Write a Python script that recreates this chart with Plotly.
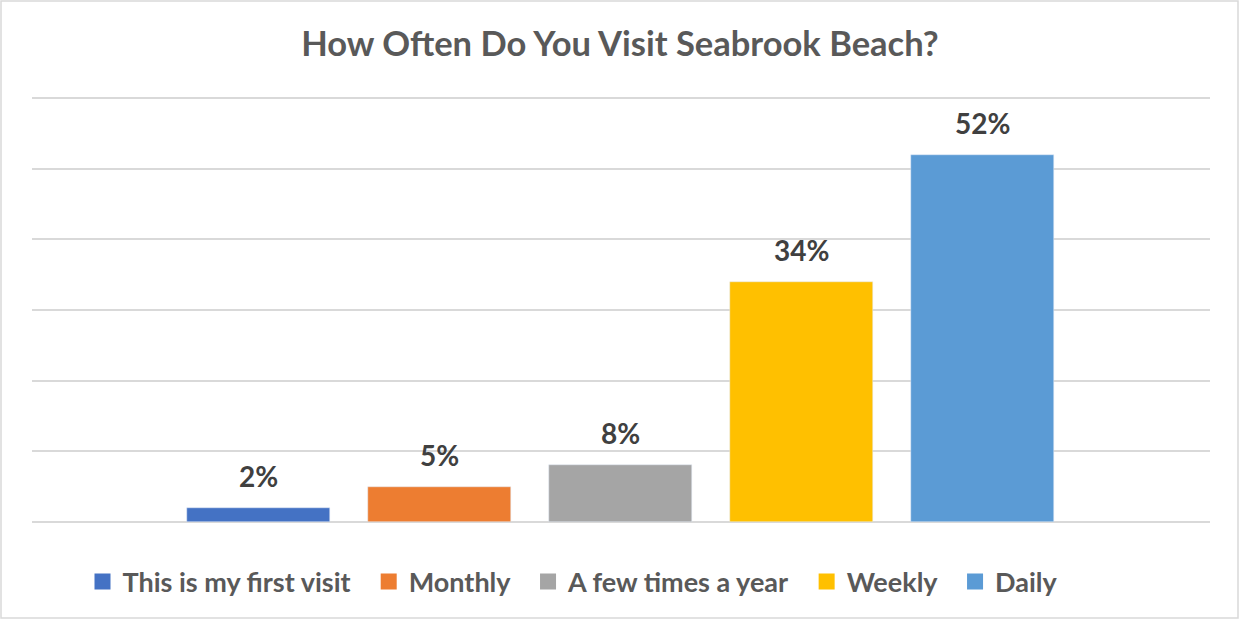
import plotly.graph_objects as go

series = ["This is my first visit", "Monthly", "A few times a year", "Weekly", "Daily"]
values = [2, 5, 8, 34, 52]
colors = ["#4472C4", "#ED7D31", "#A5A5A5", "#FFC000", "#5B9BD5"]
y_ticks = [0, 10, 20, 30, 40, 50, 60]

FONT = "Lato"
W, H = 1240, 619
Y_MAX = 61
# pixel layout: y=0 at 522px, y=60 at 98px
px_per_unit = (522 - 98) / 60
L, R, B = 32, 30, 97
ph = px_per_unit * Y_MAX
T = H - B - ph
pw = W - L - R

fig = go.Figure()
PAD = "\u00a0\u00a0"
for i, (name, v, c) in enumerate(zip(series, values, colors)):
    fig.add_trace(go.Bar(x=[i], y=[v], name=name, marker_color=c, width=0.79,
                         hoverinfo="name+y", showlegend=False))
    fig.add_trace(go.Scatter(x=[None], y=[None], mode="markers", name=name + (PAD if i < len(series) - 1 else ""),
                             marker=dict(symbol="square", size=17, color=c), hoverinfo="skip"))
    fig.add_annotation(x=i, y=v, text=f"{v}%", showarrow=False, yanchor="middle",
                       yshift=32, font=dict(family=FONT, size=28, color="#404040", weight="bold"))

fig.add_shape(type="rect", xref="paper", yref="paper",
              x0=(1 - L) / pw, x1=(W - 2 - L) / pw,
              y0=-(B - 1) / ph, y1=1 + (T - 1) / ph,
              line=dict(color="#D9D9D9", width=1.5), fillcolor="rgba(0,0,0,0)", layer="below")

fig.update_layout(
    width=W, height=H,
    margin=dict(l=L, r=R, t=T, b=B),
    paper_bgcolor="white", plot_bgcolor="white",
    title=dict(text="How Often Do You Visit Seabrook Beach?", x=0.5, xanchor="center",
               y=1 - 44 / H, yanchor="middle",
               font=dict(family=FONT, size=34.5, color="#595959", weight="bold")),
    xaxis=dict(range=[-1.2514, 5.257], showticklabels=False, showgrid=False,
               zeroline=False, fixedrange=True),
    yaxis=dict(range=[0, Y_MAX], tickvals=y_ticks, showticklabels=False, showgrid=True,
               gridcolor="#D9D9D9", gridwidth=1.5, zeroline=True, zerolinecolor="#D9D9D9",
               zerolinewidth=1.5),
    legend=dict(orientation="h", x=0.5 - 48 / pw, xanchor="center", y=-(582 - 522) / ph, yanchor="middle",
                font=dict(family=FONT, size=27, color="#595959", weight="bold"),
                itemsizing="trace", traceorder="normal"),
    bargap=0,
    showlegend=True,
)
fig.write_html("out.html", config={"displayModeBar": False},
               post_script="document.body.style.margin='0';document.body.style.padding='0';")
